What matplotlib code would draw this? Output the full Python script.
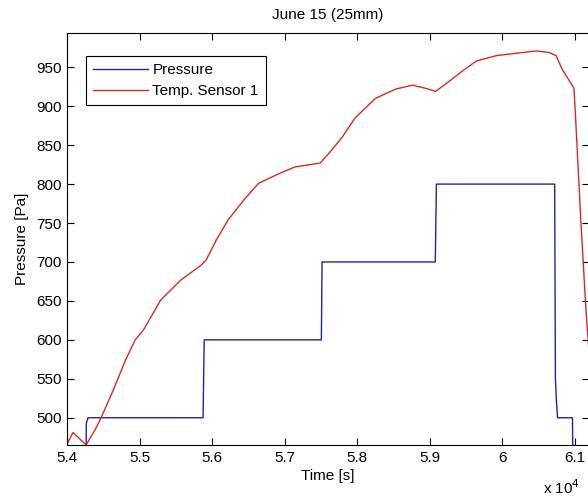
import matplotlib
matplotlib.use('Agg')
import matplotlib.pyplot as plt
from matplotlib.ticker import FuncFormatter

# pressure steps (time in s, pressure in Pa)
p_time = [54262, 54266, 54290, 55875, 55890, 57505, 57515, 59075, 59090,
          60720, 60730, 60745, 60760, 60965, 60972]
p_val = [440, 493, 500, 500, 600, 600, 700, 700, 800,
         800, 550, 520, 500, 500, 440]

# temperature sensor 1 (scaled onto the pressure axis)
t_time = [54000, 54083, 54264, 54390, 54470, 54640, 54806, 54940, 55056,
          55290, 55570, 55850, 55920, 56056, 56220, 56440, 56640, 56960,
          57140, 57490, 57650, 57790, 57970, 58250, 58530, 58760, 58940,
          59080, 59280, 59460, 59640, 59920, 60190, 60470, 60640, 60740,
          60820, 60986, 61010, 61080, 61150, 61200]
t_val = [466, 481, 465, 485, 500, 536, 574, 600, 613,
         651, 677, 696, 703, 728, 754, 780, 801, 815,
         822, 827, 844, 860, 885, 910, 922, 927, 923,
         919, 933, 946, 958, 965, 968, 971, 969, 965,
         948, 923, 882, 754, 640, 575]

plt.rcParams['font.family'] = ['Liberation Sans', 'DejaVu Sans']
fs = 11

fig = plt.figure(figsize=(5.88, 4.97), dpi=100)
ax = fig.add_axes([67 / 588, 1 - 445 / 497, 522 / 588, 412 / 497])

ax.plot(p_time, p_val, color='#2323a0', lw=1.0, label='Pressure')
ax.plot(t_time, t_val, color='#d42a2a', lw=1.0, label='Temp. Sensor 1')

ax.set_xlim(54000, 61193)
ax.set_ylim(465, 994)
ax.set_xticks([54000 + 1000 * i for i in range(8)])
ax.set_yticks(list(range(500, 951, 50)))
ax.xaxis.set_major_formatter(FuncFormatter(lambda v, pos: '%g' % round(v / 1e4, 2)))
ax.tick_params(direction='in', top=True, right=True, length=5, width=0.8,
               labelsize=fs, pad=4, colors='black')
for s in ax.spines.values():
    s.set_linewidth(0.8)

ax.set_title('June 15 (25mm)', fontsize=fs, pad=10)
ax.set_xlabel('Time [s]', fontsize=fs, labelpad=3)
ax.set_ylabel('Pressure [Pa]', fontsize=fs, labelpad=5)
fig.text(543 / 588, 1 - 488 / 497, r'x 10$^{4}$', fontsize=fs, va='center')

leg = ax.legend(loc='upper left', bbox_to_anchor=(0.036, 0.943), fancybox=False,
                edgecolor='black', framealpha=1, borderaxespad=0,
                handlelength=3.6, handletextpad=0.3, borderpad=0.45,
                labelspacing=0.45, fontsize=fs)
leg.get_frame().set_linewidth(0.8)

fig.savefig('out.png', dpi=100)
